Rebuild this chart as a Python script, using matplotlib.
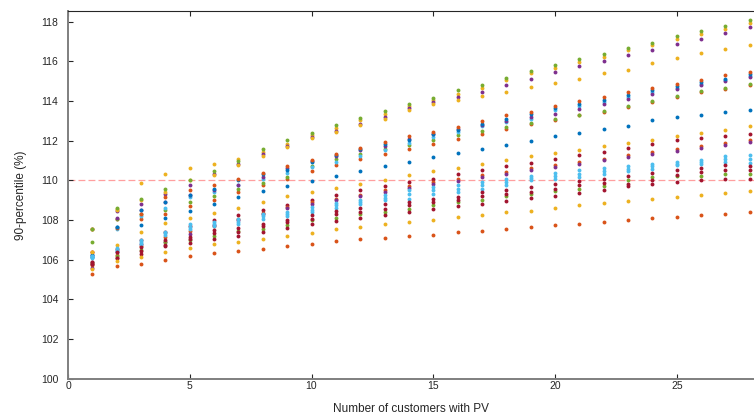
import matplotlib
matplotlib.use("Agg")
import matplotlib.pyplot as plt
import numpy as np

plt.rcParams['font.family'] = ['Liberation Sans', 'DejaVu Sans']

customers = np.arange(1, 29)

# matlab default colours
blue = '#0072BD'
orange = '#D95319'
yellow = '#EDB120'
purple = '#7E2F8E'
green = '#77AC30'
lightblue = '#4DBEEE'
darkred = '#A2142F'

# one list per scenario (x = 1..28)
top_yellow = [107.56,108.55,109.85,110.30,110.60,110.82,111.08,111.43,111.85,112.27,112.64,113.06,113.37,113.74,114.07,114.38,114.66,115.05,115.39,115.67,115.98,116.23,116.55,116.82,117.12,117.37,117.64,117.95]
top_purple = [107.56,108.48,108.82,109.29,109.78,110.30,110.84,111.31,111.73,112.19,112.47,112.86,113.20,113.67,113.96,114.21,114.46,114.83,115.12,115.45,115.77,116.01,116.30,116.57,116.89,117.12,117.42,117.71]
top_yellow2 = [107.56,108.50,109.00,109.41,110.00,110.25,110.75,111.25,111.68,112.14,112.44,112.78,113.11,113.54,113.87,114.04,114.23,114.46,114.71,114.90,115.12,115.39,115.59,115.91,116.18,116.40,116.62,116.82]
top_green = [107.56,108.62,109.04,109.58,110.03,110.47,111.00,111.57,112.02,112.39,112.78,113.16,113.50,113.84,114.17,114.55,114.80,115.17,115.51,115.81,116.11,116.36,116.68,116.94,117.29,117.53,117.79,118.08]

mid_orange = [106.40,107.60,108.30,109.16,109.49,109.78,110.05,110.36,110.71,111.01,111.35,111.63,111.92,112.22,112.44,112.69,112.98,113.28,113.45,113.74,113.99,114.18,114.44,114.66,114.88,115.08,115.29,115.47]
mid_blue = [106.16,107.64,108.52,108.90,109.24,109.55,110.00,110.30,110.50,110.93,111.26,111.57,111.82,112.02,112.32,112.56,112.86,113.11,113.37,113.67,113.87,114.07,114.31,114.55,114.76,114.95,115.13,115.35]
mid_purple = [106.26,108.10,108.52,108.90,109.24,109.50,109.78,110.17,110.62,110.98,111.21,111.52,111.75,112.10,112.36,112.61,112.78,112.98,113.20,113.37,113.62,113.87,114.09,114.34,114.60,114.81,115.00,115.19]
mid_lightblue = [106.16,107.53,108.20,108.60,109.15,109.40,109.75,110.08,110.39,110.67,110.93,111.25,111.52,111.89,112.19,112.44,112.73,112.95,113.11,113.54,113.74,113.96,114.21,114.44,114.68,114.88,115.05,115.25]
mid_green = [106.88,108.06,108.32,108.52,108.90,109.21,109.55,109.87,110.17,110.72,111.06,111.31,111.58,111.80,112.05,112.27,112.47,112.69,112.90,113.10,113.32,113.50,113.74,113.99,114.23,114.49,114.66,114.85]
mid_orange2 = [106.38,108.06,108.06,108.30,108.70,108.99,109.41,109.75,110.08,110.47,110.77,111.06,111.31,111.57,111.85,112.10,112.36,112.61,112.83,113.03,113.28,113.45,113.70,113.96,114.18,114.44,114.63,114.80]

single_blue = [106.26,107.64,107.76,108.10,108.48,108.82,109.16,109.44,109.70,109.95,110.22,110.45,110.72,110.93,111.16,111.38,111.57,111.80,111.99,112.22,112.41,112.58,112.76,113.03,113.18,113.32,113.47,113.57]
single_yellow = [106.38,106.72,107.42,107.85,108.10,108.37,108.62,108.91,109.19,109.43,109.63,109.83,110.03,110.25,110.47,110.64,110.84,111.01,111.23,111.36,111.55,111.73,111.90,112.05,112.24,112.41,112.56,112.73]
single_darkred = [105.90,106.55,107.00,107.40,107.70,107.98,108.23,108.52,108.77,108.99,109.24,109.49,109.71,109.90,110.08,110.34,110.51,110.72,110.89,111.09,111.30,111.45,111.65,111.85,112.02,112.14,112.24,112.36]
low_purple = [105.59,106.40,106.80,106.90,107.30,107.75,108.00,108.32,108.62,108.82,108.99,109.19,109.41,109.61,109.80,109.97,110.17,110.34,110.51,110.67,110.84,111.01,111.18,111.35,111.48,111.63,111.80,111.94]
low_orange = [105.75,106.25,106.70,107.14,107.47,107.69,108.05,108.38,108.68,108.90,109.08,109.27,109.50,109.70,109.90,110.07,110.27,110.44,110.60,110.76,110.93,111.10,111.28,111.45,111.56,111.73,111.88,112.05]

lb1 = [106.20,106.60,107.00,107.40,107.78,107.90,108.06,108.32,108.43,108.65,108.86,109.02,109.24,109.49,109.66,109.75,109.92,110.08,110.20,110.37,110.51,110.64,110.72,110.84,110.93,111.04,111.23,111.30]
lb2 = [106.15,106.50,106.90,107.34,107.64,107.80,107.90,108.20,108.28,108.52,108.74,108.91,109.12,109.29,109.49,109.58,109.75,109.92,110.10,110.22,110.34,110.49,110.59,110.72,110.84,110.94,111.08,111.10]
lb3 = [106.10,106.45,106.80,107.25,107.55,107.70,107.81,108.06,108.18,108.40,108.62,108.79,108.99,109.07,109.33,109.41,109.58,109.75,110.00,110.08,110.17,110.34,110.47,110.59,110.76,110.84,110.93,110.90]
dr1 = [105.90,106.38,106.63,106.97,107.14,107.51,107.59,107.81,108.01,108.23,108.48,108.62,108.82,108.91,109.07,109.16,109.41,109.53,109.66,109.83,109.97,110.08,110.22,110.39,110.51,110.64,110.76,110.74]
dr2 = [105.76,106.10,106.45,106.75,107.05,107.36,107.39,107.70,107.90,108.06,108.32,108.40,108.57,108.74,108.91,108.99,109.19,109.33,109.41,109.58,109.75,109.88,109.83,110.00,110.25,110.42,110.51,110.50]
low_green = [105.85,106.20,106.50,106.90,107.00,107.22,107.47,107.56,107.76,107.98,108.11,108.32,108.43,108.57,108.74,108.91,109.02,109.21,109.29,109.44,109.58,109.71,110.00,110.17,110.20,110.22,110.34,110.34]
dr3 = [105.76,106.10,106.30,106.70,106.85,107.05,107.22,107.42,107.59,107.78,107.95,108.11,108.27,108.40,108.54,108.69,108.82,108.97,109.09,109.23,109.38,109.53,109.70,109.83,109.92,110.00,110.08,110.05]
bottom_yellow = [105.55,105.93,106.16,106.38,106.58,106.77,106.89,107.05,107.22,107.36,107.53,107.64,107.78,107.90,108.01,108.15,108.27,108.40,108.48,108.62,108.74,108.84,108.96,109.07,109.16,109.28,109.36,109.46]
bottom_orange = [105.29,105.66,105.79,105.96,106.18,106.33,106.45,106.55,106.68,106.80,106.92,107.02,107.10,107.21,107.27,107.39,107.47,107.56,107.64,107.74,107.81,107.91,107.98,108.08,108.15,108.25,108.32,108.40]

series = [
    (top_yellow, yellow), (top_purple, purple), (top_yellow2, yellow), (top_green, green),
    (mid_orange2, orange), (mid_green, green), (mid_lightblue, lightblue), (mid_purple, purple),
    (mid_blue, blue), (mid_orange, orange),
    (single_blue, blue), (single_yellow, yellow), (single_darkred, darkred),
    (low_orange, orange), (low_purple, purple),
    (lb1, lightblue), (lb2, lightblue), (lb3, lightblue),
    (low_green, green), (dr3, darkred), (dr2, darkred), (dr1, darkred),
    (bottom_yellow, yellow), (bottom_orange, orange),
]

fig = plt.figure(figsize=(7.54, 4.16), dpi=100)
ax = fig.add_axes([68/754, (416-378.7)/416, 28.2*24.35/754, (378.7-11)/416])

ax.axhline(110, color='#ff9f9f', lw=0.9, ls=(0, (5.5, 2.5)), zorder=1)
for vals, col in series:
    ax.plot(customers, vals, 'o', color=col, markersize=2.8, markeredgewidth=0, zorder=2)

ax.set_xlim(0, 28.2)
ax.set_ylim(100, 118.54)
ax.set_xticks(range(0, 30, 5))
ax.set_yticks(range(100, 120, 2))

ax.tick_params(direction='in', length=3.5, width=0.8, colors='#262626',
               labelsize=7.5, top=True, right=False)
ax.tick_params(axis='y', pad=7)
ax.tick_params(axis='x', pad=2)
ax.spines['right'].set_visible(False)
ax.spines['top'].set_color('#262626')
ax.spines['top'].set_linewidth(0.8)
for side in ['left', 'bottom']:
    ax.spines[side].set_color('#7f7f7f')
    ax.spines[side].set_linewidth(1.4)

ax.set_xlabel('Number of customers with PV', fontsize=8.5, color='#262626', labelpad=8)
ax.set_ylabel('90-percentile (%)', fontsize=8.5, color='#262626', labelpad=10)

fig.savefig('out.png', dpi=100)
